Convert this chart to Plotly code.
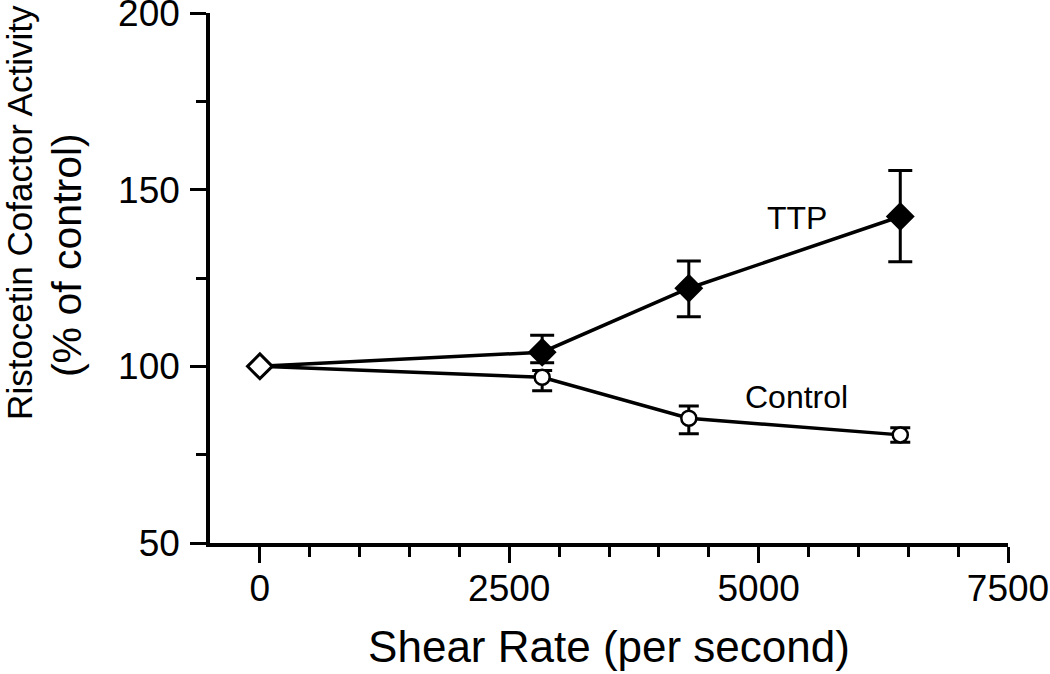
import plotly.graph_objects as go

# Data
shear_rate = [0, 2830, 4300, 6420]
ttp_values = [100, 104.0, 122.1, 142.4]
ttp_err_plus = [0, 4.8, 7.7, 13.0]
ttp_err_minus = [0, 3.0, 8.1, 12.8]
control_values = [100, 96.9, 85.3, 80.6]
control_err_plus = [0, 1.9, 3.5, 2.0]
control_err_minus = [0, 3.8, 4.4, 2.1]

x_ticks = [0, 2500, 5000, 7500]
x_minor = [500, 1000, 1500, 2000, 3000, 3500, 4000, 4500, 5500, 6000, 6500, 7000]
y_ticks = [50, 100, 150, 200]
y_minor = [75, 125, 175]

FONT = "Liberation Sans, Arial, Helvetica, sans-serif"

fig = go.Figure()

fig.add_trace(go.Scatter(
    x=shear_rate, y=control_values, mode="lines+markers", name="Control",
    line=dict(color="black", width=3.5),
    marker=dict(symbol="circle", size=15, color="white", line=dict(color="black", width=2.5)),
    error_y=dict(type="data", symmetric=False, array=control_err_plus, arrayminus=control_err_minus,
                 color="black", thickness=3, width=10),
    showlegend=False,
))

fig.add_trace(go.Scatter(
    x=shear_rate, y=ttp_values, mode="lines+markers", name="TTP",
    line=dict(color="black", width=3.5),
    marker=dict(symbol="diamond", size=19, color=["white", "black", "black", "black"],
                line=dict(color="black", width=3)),
    error_y=dict(type="data", symmetric=False, array=ttp_err_plus, arrayminus=ttp_err_minus,
                 color="black", thickness=3, width=12),
    showlegend=False,
))

fig.add_annotation(x=5380, y=142.0, xref="x", yref="y", text="TTP", showarrow=False,
                   font=dict(family=FONT, size=32, color="black"), xanchor="center", yanchor="middle")
fig.add_annotation(x=5380, y=91.2, xref="x", yref="y", text="Control", showarrow=False,
                   font=dict(family=FONT, size=32, color="black"), xanchor="center", yanchor="middle")

# Y-axis title as two rotated lines
fig.add_annotation(x=-0.238, y=0.623, xref="paper", yref="paper", text="Ristocetin Cofactor Activity",
                   textangle=-90, showarrow=False, xanchor="center", yanchor="middle",
                   font=dict(family=FONT, size=35, color="black"))
fig.add_annotation(x=-0.180, y=0.544, xref="paper", yref="paper", text="(% of control)",
                   textangle=-90, showarrow=False, xanchor="center", yanchor="middle",
                   font=dict(family=FONT, size=41, color="black"))

fig.update_layout(
    width=1050, height=674,
    margin=dict(l=210, r=42, t=13, b=131, autoexpand=False),
    paper_bgcolor="white", plot_bgcolor="white",
    font=dict(family=FONT, color="black"),
    xaxis=dict(
        range=[-500, 7500], tickmode="array", tickvals=x_ticks,
        ticks="outside", ticklen=16, tickwidth=3, tickcolor="black",
        showline=True, linecolor="black", linewidth=3.5,
        showgrid=False, zeroline=False, automargin=False,
        tickfont=dict(family=FONT, size=37, color="black"),
        ticklabeloverflow="allow",
        ticklabelstandoff=-6,
        minor=dict(tickmode="array", tickvals=x_minor, ticks="outside", ticklen=10,
                   tickwidth=3, tickcolor="black", showgrid=False),
        title=dict(text="Shear Rate (per second)", font=dict(family=FONT, size=44, color="black"),
                   standoff=24),
        fixedrange=True,
    ),
    yaxis=dict(
        range=[50, 200], tickmode="array", tickvals=y_ticks,
        ticks="outside", ticklen=16, tickwidth=3, tickcolor="black",
        showline=True, linecolor="black", linewidth=3.5,
        showgrid=False, zeroline=False, automargin=False,
        tickfont=dict(family=FONT, size=37, color="black"),
        ticklabeloverflow="allow",
        minor=dict(tickmode="array", tickvals=y_minor, ticks="outside", ticklen=10,
                   tickwidth=3, tickcolor="black", showgrid=False),
        ticklabelstandoff=3,
        fixedrange=True,
    ),
)

fig.write_html(
    "out.html",
    config={"displayModeBar": False},
    post_script="document.body.style.margin='0';document.body.style.overflow='hidden';",
)
